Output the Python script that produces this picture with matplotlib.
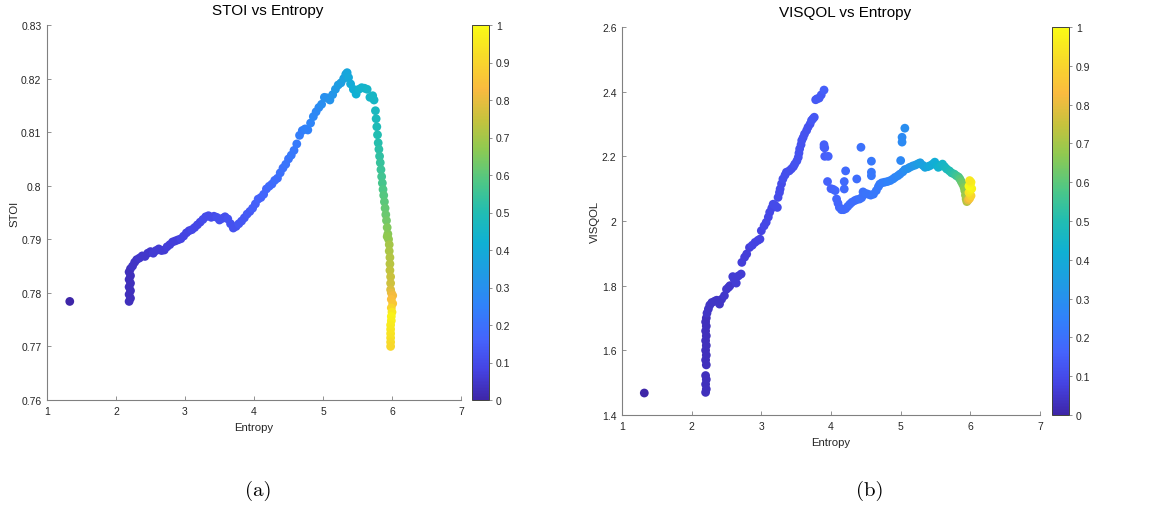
import matplotlib
matplotlib.use('Agg')
import matplotlib.pyplot as plt
import matplotlib.colors as mcolors
from matplotlib.ticker import FuncFormatter
import numpy as np

plt.rcParams['font.family'] = ['Liberation Sans', 'DejaVu Sans']

# ---------------- STOI vs Entropy ----------------
stoi_entropy = [
    1.33,
    2.19, 2.21, 2.19, 2.21, 2.19, 2.21, 2.19, 2.21, 2.19, 2.21,
    2.24, 2.27, 2.30, 2.34, 2.38, 2.42, 2.46, 2.50, 2.54, 2.58,
    2.62, 2.66, 2.70, 2.74, 2.78, 2.82, 2.86, 2.90, 2.94, 2.98,
    3.02, 3.06, 3.10, 3.14, 3.18, 3.22, 3.26, 3.30, 3.34, 3.38,
    3.42, 3.46, 3.50, 3.54, 3.58, 3.62, 3.66, 3.70, 3.74, 3.78,
    3.82, 3.86, 3.90, 3.94, 3.98, 4.02, 4.06, 4.10, 4.14, 4.18,
    4.22, 4.26, 4.30, 4.34, 4.38, 4.42, 4.46, 4.50, 4.54, 4.58,
    4.62, 4.66, 4.70, 4.74, 4.78, 4.82, 4.86, 4.90, 4.94, 4.98,
    5.02, 5.06, 5.10, 5.14, 5.18, 5.22, 5.26, 5.30, 5.33, 5.35,
    5.37, 5.40, 5.44, 5.48, 5.52, 5.56, 5.60, 5.64, 5.68, 5.72,
    5.74, 5.76, 5.77, 5.78, 5.79, 5.80, 5.81, 5.82, 5.83, 5.84,
    5.85, 5.86, 5.87, 5.88, 5.89, 5.90, 5.91, 5.92, 5.93, 5.94,
    5.95, 5.93, 5.96, 5.96, 5.97, 5.97, 5.97, 5.98, 5.98, 5.98,
    5.99, 6.01, 5.99, 6.01, 5.99, 6.00, 5.99, 5.99, 5.98, 5.98,
    5.98, 5.98, 5.98, 5.98,
]
stoi_values = [
    0.7784,
    0.7784, 0.7790, 0.7797, 0.7804, 0.7811, 0.7818, 0.7825, 0.7832, 0.7839, 0.7845,
    0.7850, 0.7857, 0.7862, 0.7865, 0.7869, 0.7868, 0.7874, 0.7877, 0.7874, 0.7879,
    0.7882, 0.7879, 0.7880, 0.7886, 0.7890, 0.7895, 0.7897, 0.7899, 0.7901, 0.7906,
    0.7912, 0.7916, 0.7918, 0.7922, 0.7927, 0.7932, 0.7937, 0.7942, 0.7944, 0.7941,
    0.7943, 0.7941, 0.7936, 0.7939, 0.7942, 0.7938, 0.7929, 0.7921, 0.7924, 0.7929,
    0.7934, 0.7940, 0.7947, 0.7952, 0.7958, 0.7966, 0.7975, 0.7978, 0.7984, 0.7994,
    0.7999, 0.8003, 0.8010, 0.8014, 0.8024, 0.8033, 0.8040, 0.8050, 0.8057, 0.8066,
    0.8078, 0.8094, 0.8103, 0.8106, 0.8104, 0.8117, 0.8129, 0.8138, 0.8146, 0.8152,
    0.8165, 0.8164, 0.8160, 0.8170, 0.8180, 0.8188, 0.8192, 0.8200, 0.8208, 0.8211,
    0.8202, 0.8190, 0.8180, 0.8171, 0.8180, 0.8183, 0.8182, 0.8180, 0.8165, 0.8168,
    0.8160, 0.8140, 0.8125, 0.8110, 0.8095, 0.8080, 0.8068, 0.8055, 0.8043, 0.8030,
    0.8017, 0.8005, 0.7993, 0.7982, 0.7970, 0.7958, 0.7946, 0.7935, 0.7922, 0.7910,
    0.7900, 0.7905, 0.7890, 0.7878, 0.7866, 0.7854, 0.7842, 0.7830, 0.7818, 0.7806,
    0.7800, 0.7795, 0.7788, 0.7780, 0.7772, 0.7764, 0.7756, 0.7748, 0.7740, 0.7732,
    0.7724, 0.7716, 0.7708, 0.7700,
]
stoi_color = [
    0.00,
    0.03, 0.03, 0.03, 0.03, 0.03, 0.03, 0.03, 0.03, 0.03, 0.03,
    0.04, 0.04, 0.04, 0.05, 0.05, 0.05, 0.05, 0.05, 0.06, 0.06,
    0.06, 0.06, 0.06, 0.07, 0.07, 0.07, 0.07, 0.07, 0.08, 0.08,
    0.08, 0.08, 0.09, 0.09, 0.09, 0.09, 0.10, 0.10, 0.10, 0.10,
    0.10, 0.11, 0.11, 0.11, 0.11, 0.12, 0.12, 0.12, 0.12, 0.13,
    0.13, 0.13, 0.14, 0.14, 0.15, 0.15, 0.16, 0.16, 0.17, 0.17,
    0.18, 0.18, 0.19, 0.19, 0.20, 0.20, 0.21, 0.21, 0.22, 0.22,
    0.23, 0.24, 0.24, 0.25, 0.25, 0.26, 0.27, 0.27, 0.28, 0.29,
    0.30, 0.30, 0.31, 0.32, 0.33, 0.34, 0.35, 0.36, 0.37, 0.38,
    0.39, 0.40, 0.41, 0.42, 0.43, 0.44, 0.44, 0.45, 0.45, 0.46,
    0.46, 0.47, 0.48, 0.49, 0.50, 0.51, 0.52, 0.53, 0.54, 0.55,
    0.56, 0.57, 0.58, 0.59, 0.60, 0.61, 0.62, 0.63, 0.65, 0.66,
    0.68, 0.67, 0.70, 0.71, 0.72, 0.73, 0.74, 0.75, 0.76, 0.78,
    0.80, 0.82, 0.84, 0.86, 0.90, 0.95, 0.98, 0.97, 0.96, 0.95,
    0.94, 0.93, 0.92, 0.91,
]

# ---------------- VISQOL vs Entropy ----------------
visqol_entropy = [
    1.32,
    2.20, 2.21, 2.20, 2.21, 2.20, 2.21, 2.20, 2.21, 2.20, 2.21,
    2.20, 2.21, 2.20, 2.21, 2.20, 2.21, 2.22, 2.24, 2.26, 2.29,
    2.33, 2.36, 2.40, 2.43, 2.47, 2.50, 2.53, 2.55, 2.59, 2.61,
    2.64, 2.67, 2.71, 2.72, 2.76, 2.79, 2.83, 2.87, 2.91, 2.95,
    2.98, 3.00, 3.04, 3.07, 3.10, 3.12, 3.15, 3.17, 3.20, 3.23,
    3.24, 3.26, 3.27, 3.29, 3.31, 3.34, 3.36, 3.40, 3.43, 3.46,
    3.48, 3.51, 3.53, 3.54, 3.55, 3.57, 3.58, 3.60, 3.62, 3.65,
    3.67, 3.70, 3.72, 3.74, 3.76, 3.78, 3.80, 3.83, 3.86, 3.90,
    3.90, 3.91, 3.91, 3.96, 3.95, 4.00, 4.03, 4.06, 4.08, 4.10,
    4.12, 4.15, 4.18, 4.21, 4.24, 4.27, 4.30, 4.34, 4.37, 4.41,
    4.44, 4.46, 4.50, 4.53, 4.57, 4.61, 4.65, 4.68, 4.70, 4.73,
    4.77, 4.81, 4.85, 4.89, 4.92, 4.96, 4.99, 5.03, 5.06, 5.10,
    5.13, 5.17, 5.21, 5.25, 5.28, 5.32, 5.35, 5.39, 5.42, 5.46,
    5.49, 5.52, 5.54, 5.57, 5.60, 5.63, 5.66, 5.70, 5.73, 5.77,
    5.80, 5.83, 5.85, 5.87, 5.89, 5.91, 5.92, 5.93, 5.94, 5.95,
    4.21, 4.19, 4.19, 4.37, 4.43, 4.58, 4.58, 4.58, 5.00, 5.02,
    5.02, 5.06, 3.90,
    5.97, 5.99, 6.01, 5.98, 6.00, 6.02, 5.98, 6.00, 6.01, 5.99,
]
visqol_values = [
    1.468,
    1.470, 1.480, 1.495, 1.510, 1.522, 1.555, 1.570, 1.585, 1.600, 1.615,
    1.630, 1.645, 1.660, 1.675, 1.688, 1.700, 1.715, 1.728, 1.740, 1.748,
    1.752, 1.755, 1.743, 1.758, 1.769, 1.789, 1.795, 1.800, 1.828, 1.820,
    1.808, 1.830, 1.836, 1.872, 1.888, 1.898, 1.918, 1.925, 1.934, 1.940,
    1.944, 1.970, 1.985, 1.996, 2.012, 2.027, 2.040, 2.052, 2.048, 2.042,
    2.073, 2.088, 2.099, 2.115, 2.130, 2.142, 2.151, 2.155, 2.161, 2.168,
    2.176, 2.186, 2.197, 2.210, 2.223, 2.236, 2.249, 2.258, 2.269, 2.280,
    2.290, 2.300, 2.311, 2.316, 2.321, 2.375, 2.378, 2.380, 2.390, 2.405,
    2.236, 2.226, 2.200, 2.200, 2.122, 2.100, 2.098, 2.094, 2.068, 2.055,
    2.042, 2.035, 2.035, 2.038, 2.045, 2.052, 2.058, 2.063, 2.066, 2.068,
    2.072, 2.090, 2.085, 2.083, 2.080, 2.083, 2.094, 2.106, 2.114, 2.118,
    2.120, 2.122, 2.125, 2.130, 2.135, 2.140, 2.145, 2.152, 2.159, 2.162,
    2.166, 2.170, 2.173, 2.177, 2.180, 2.172, 2.166, 2.168, 2.171, 2.176,
    2.182, 2.172, 2.166, 2.170, 2.176, 2.168, 2.161, 2.155, 2.149, 2.145,
    2.140, 2.136, 2.130, 2.122, 2.114, 2.104, 2.094, 2.080, 2.068, 2.060,
    2.155, 2.122, 2.099, 2.130, 2.228, 2.185, 2.151, 2.140, 2.187, 2.259,
    2.244, 2.287, 2.228,
    2.065, 2.070, 2.078, 2.088, 2.095, 2.100, 2.108, 2.115, 2.120, 2.125,
]
visqol_color = [
    0.00,
    0.03, 0.03, 0.03, 0.03, 0.03, 0.03, 0.03, 0.03, 0.03, 0.03,
    0.03, 0.03, 0.03, 0.03, 0.03, 0.03, 0.04, 0.04, 0.04, 0.04,
    0.04, 0.04, 0.04, 0.04, 0.05, 0.05, 0.05, 0.05, 0.06, 0.06,
    0.06, 0.06, 0.06, 0.07, 0.07, 0.07, 0.07, 0.08, 0.08, 0.08,
    0.08, 0.08, 0.09, 0.09, 0.09, 0.09, 0.09, 0.10, 0.10, 0.10,
    0.10, 0.10, 0.10, 0.10, 0.11, 0.11, 0.11, 0.11, 0.11, 0.11,
    0.12, 0.12, 0.12, 0.12, 0.12, 0.12, 0.12, 0.12, 0.12, 0.12,
    0.12, 0.12, 0.13, 0.13, 0.13, 0.13, 0.14, 0.14, 0.14, 0.15,
    0.15, 0.15, 0.15, 0.16, 0.16, 0.16, 0.16, 0.17, 0.17, 0.17,
    0.17, 0.18, 0.18, 0.18, 0.18, 0.19, 0.19, 0.19, 0.19, 0.20,
    0.20, 0.20, 0.21, 0.21, 0.21, 0.22, 0.22, 0.23, 0.23, 0.24,
    0.24, 0.25, 0.25, 0.26, 0.26, 0.27, 0.27, 0.28, 0.29, 0.30,
    0.31, 0.32, 0.33, 0.34, 0.35, 0.36, 0.37, 0.38, 0.39, 0.40,
    0.41, 0.42, 0.43, 0.44, 0.45, 0.46, 0.47, 0.49, 0.51, 0.53,
    0.55, 0.57, 0.59, 0.61, 0.63, 0.65, 0.67, 0.69, 0.71, 0.73,
    0.18, 0.18, 0.18, 0.19, 0.20, 0.22, 0.22, 0.22, 0.27, 0.28,
    0.28, 0.29, 0.15,
    0.80, 0.86, 0.90, 0.93, 0.96, 0.98, 1.00, 0.99, 0.97, 0.95,
]

assert len(stoi_entropy) == len(stoi_values) == len(stoi_color)
assert len(visqol_entropy) == len(visqol_values) == len(visqol_color)

# parula-like colormap
parula_pos = [0.00, 0.08, 0.16, 0.25, 0.33, 0.42, 0.50, 0.58, 0.67, 0.75, 0.83, 0.92, 1.00]
parula_rgb = [
    (0.2422, 0.1504, 0.6603),
    (0.2720, 0.2640, 0.8900),
    (0.2700, 0.3900, 0.9900),
    (0.1900, 0.5100, 0.9800),
    (0.1300, 0.6000, 0.9000),
    (0.0600, 0.6900, 0.8300),
    (0.1300, 0.7400, 0.7000),
    (0.3000, 0.7800, 0.5300),
    (0.5600, 0.7900, 0.3200),
    (0.7800, 0.7600, 0.2400),
    (0.9800, 0.7300, 0.2500),
    (0.9700, 0.8600, 0.1600),
    (0.9769, 0.9839, 0.0805),
]
parula = mcolors.LinearSegmentedColormap.from_list('parula', list(zip(parula_pos, parula_rgb)))

W, H = 1149, 510
fig = plt.figure(figsize=(W / 100, H / 100), dpi=100)

axis_color = '#808080'
text_color = '#262626'


def px_rect(x0, y0, x1, y1):
    return [x0 / W, 1 - y1 / H, (x1 - x0) / W, (y1 - y0) / H]


def style_axes(ax):
    for s in ['top', 'right']:
        ax.spines[s].set_visible(False)
    for s in ['left', 'bottom']:
        ax.spines[s].set_color(axis_color)
        ax.spines[s].set_linewidth(0.8)
    ax.tick_params(direction='in', length=3, width=0.6, color=axis_color,
                   labelsize=7.5, labelcolor=text_color, pad=4)


def g_fmt(v, pos):
    return ('%.2f' % v).rstrip('0').rstrip('.')


def draw_panel(ax_rect, cb_rect, x, y, c, ylim, yticks, title, ylabel):
    ax = fig.add_axes(px_rect(*ax_rect))
    sc = ax.scatter(x, y, c=c, cmap=parula, vmin=0, vmax=1, s=40, linewidths=0)
    ax.set_xlim(1, 7)
    ax.set_ylim(*ylim)
    ax.set_xticks(range(1, 8))
    ax.set_yticks(yticks)
    ax.yaxis.set_major_formatter(FuncFormatter(g_fmt))
    style_axes(ax)
    ax.set_xlabel('Entropy', fontsize=8.2, color=text_color, labelpad=5)
    ax.set_ylabel(ylabel, fontsize=8.2, color=text_color, labelpad=1)

    # title centred over axes + colorbar, as in the original
    cx = (ax_rect[0] + cb_rect[2]) / 2
    fig.text(cx / W, 1 - (ax_rect[1] - 15) / H, title, ha='center', va='center',
             fontsize=11, color='black')

    cax = fig.add_axes(px_rect(*cb_rect))
    cb = fig.colorbar(sc, cax=cax)
    cb.set_ticks(np.linspace(0, 1, 11))
    cb.ax.yaxis.set_major_formatter(FuncFormatter(g_fmt))
    cb.outline.set_linewidth(0.7)
    cb.outline.set_edgecolor('#404040')
    cb.ax.tick_params(direction='out', length=2, width=0.6, color=axis_color,
                      labelsize=7.5, labelcolor=text_color, pad=3)
    return ax


draw_panel((47, 26, 461, 401), (472, 26, 489, 401),
           stoi_entropy, stoi_values, stoi_color,
           (0.76, 0.83), np.arange(0.76, 0.8301, 0.01), 'STOI vs Entropy', 'STOI')
draw_panel((622, 28, 1040, 416), (1052, 28, 1069, 416),
           visqol_entropy, visqol_values, visqol_color,
           (1.4, 2.6), np.arange(1.4, 2.601, 0.2), 'VISQOL vs Entropy', 'VISQOL')

fig.text(258 / W, 1 - 491 / H, '(a)', ha='center', va='center', fontsize=15, family='cmr10')
fig.text(870 / W, 1 - 491 / H, '(b)', ha='center', va='center', fontsize=15, family='cmr10')

fig.savefig('out.png', dpi=100, facecolor='white')
